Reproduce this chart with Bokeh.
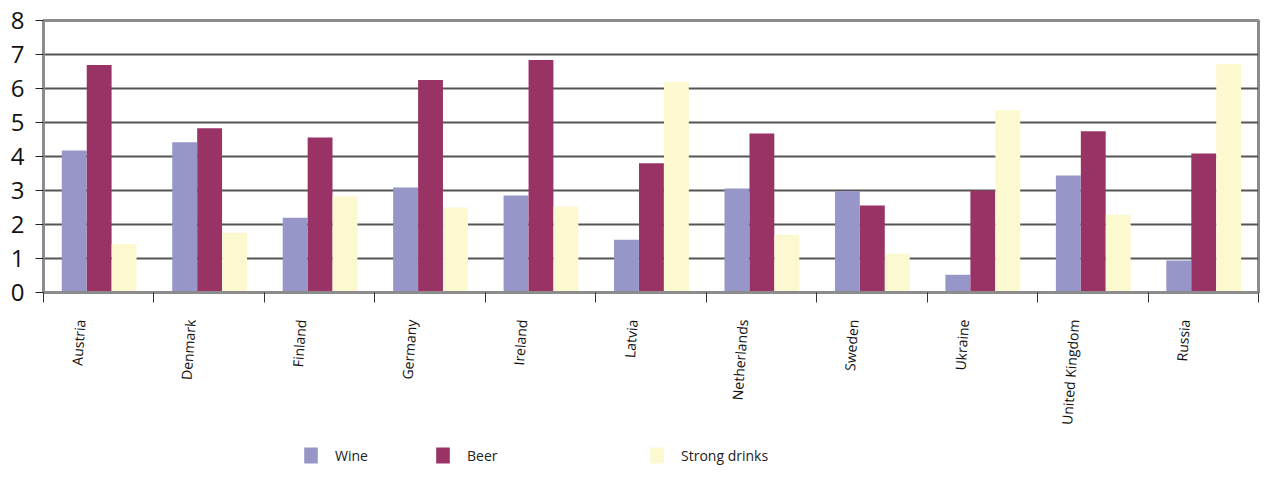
import numpy as np
from bokeh.plotting import figure
from bokeh.layouts import column
from bokeh.models import Range1d, FixedTicker, Legend, LegendItem, ColumnDataSource
from bokeh.embed import file_html
from bokeh.resources import INLINE

countries = ["Austria", "Denmark", "Finland", "Germany", "Ireland", "Latvia",
             "Netherlands", "Sweden", "Ukraine", "United Kingdom", "Russia"]
wine = [4.18, 4.42, 2.2, 3.09, 2.85, 1.55, 3.06, 2.98, 0.52, 3.44, 0.94]
beer = [6.69, 4.83, 4.56, 6.25, 6.84, 3.8, 4.68, 2.56, 3.0, 4.74, 4.09]
strong = [1.43, 1.76, 2.82, 2.5, 2.53, 6.19, 1.7, 1.14, 5.36, 2.29, 6.72]
series_names = ["Wine", "Beer", "Strong drinks"]
y_ticks = [0, 1, 2, 3, 4, 5, 6, 7, 8]

colors = ["#9696C8", "#993366", "#FCF8D0"]
FONT = "Open Sans"

n = len(countries)
idx = np.arange(n)
center = idx + 0.17          # category centres; labels sit at the integers
bar_w = 0.225
offsets = [-0.222, 0.004, 0.23]

p = figure(width=1260, height=445, output_backend="svg", toolbar_location=None,
           x_range=Range1d(-0.33, n - 0.33), y_range=Range1d(0, 8),
           min_border_left=43, min_border_right=2, min_border_top=20,
           min_border_bottom=153)

renderers = []
for vals, off, col in zip([wine, beer, strong], offsets, colors):
    src = ColumnDataSource(dict(x=center + off, top=vals))
    r = p.vbar(x="x", top="top", width=bar_w, bottom=0, source=src,
               fill_color=col, line_color=None)
    renderers.append(r)

# x axis: labels at integers, boundary ticks as minor ticks
xa = p.xaxis[0]
xa.ticker = FixedTicker(ticks=list(idx), minor_ticks=list(idx - 0.33) + [n - 0.33])
xa.major_label_overrides = {int(i): c for i, c in zip(idx, countries)}
xa.major_label_orientation = 1.5
xa.major_label_text_font = FONT
xa.major_label_text_font_size = "14px"
xa.major_label_text_color = "#111111"
xa.major_label_standoff = 17
xa.major_tick_line_color = None
xa.major_tick_out = 0
xa.major_tick_in = 0
xa.minor_tick_out = 10
xa.minor_tick_in = 0
xa.minor_tick_line_color = "#333333"
xa.minor_tick_line_width = 1
xa.axis_line_color = "#8c8c8c"
xa.axis_line_width = 3

ya = p.yaxis[0]
ya.ticker = FixedTicker(ticks=y_ticks)
ya.major_label_text_font = FONT
ya.major_label_text_font_size = "24px"
ya.major_label_text_color = "#111111"
ya.major_label_standoff = 11
ya.major_tick_out = 8
ya.major_tick_in = 0
ya.major_tick_line_color = "#222222"
ya.minor_tick_line_color = None
ya.axis_line_color = "#8c8c8c"
ya.axis_line_width = 3

p.xgrid.grid_line_color = None
p.ygrid.ticker = FixedTicker(ticks=y_ticks[1:-1])
p.ygrid.grid_line_color = "#555555"
p.ygrid.grid_line_width = 2

p.outline_line_color = "#8c8c8c"
p.outline_line_width = 3
p.background_fill_color = "white"
p.border_fill_color = "white"

# legend strip (frame is aligned with the main plot's frame)
lf = figure(width=1260, height=20, output_backend="svg", toolbar_location=None,
            x_axis_type=None, y_axis_type=None, x_range=Range1d(0, 1),
            y_range=Range1d(0, 1), min_border=0, outline_line_color=None)
lf.grid.grid_line_color = None
leg_x = [302, 434, 648]
for name, col, lx in zip(series_names, colors, leg_x):
    # swatch-only renderer placed outside the visible range
    dummy = lf.vbar(x=[-5], top=[0], width=0.1, fill_color=col, line_color=None)
    leg = Legend(items=[LegendItem(label=name, renderers=[dummy])],
                 location=(lx - 43, 0), orientation="horizontal",
                 glyph_width=17, glyph_height=20, label_standoff=16,
                 label_text_font=FONT, label_text_font_size="14px",
                 label_text_color="#222222", padding=0, margin=0,
                 border_line_color=None, background_fill_alpha=0,
                 label_height=20)
    lf.add_layout(leg, "center")

layout = column(p, lf, spacing=0)
open("out.html", "w").write(file_html(layout, INLINE))
